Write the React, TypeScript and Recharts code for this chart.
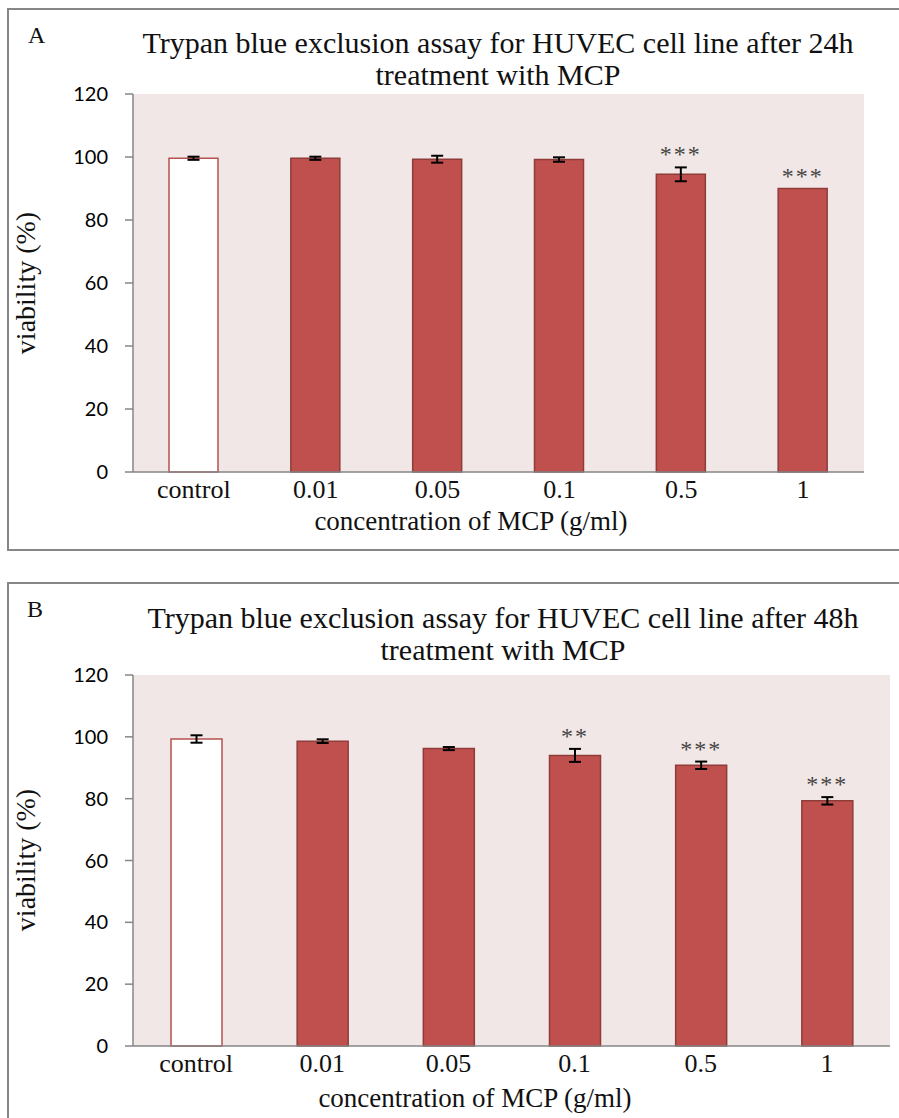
import React from "react";
import { Bar, BarChart, CartesianGrid, Cell, ErrorBar, LabelList, XAxis, YAxis } from "recharts";

const categories = ["control", "0.01", "0.05", "0.1", "0.5", "1"];

// 24h treatment
const viability24 = [99.6, 99.6, 99.3, 99.2, 94.5, 90.0];
const sd24 = [0.5, 0.5, 1.1, 0.7, 2.2, 0];
const sig24 = ["", "", "", "", "***", "***"];

// 48h treatment
const viability48 = [99.3, 98.6, 96.2, 94.0, 90.8, 79.3];
const sd48 = [1.2, 0.6, 0.5, 2.1, 1.2, 1.2];
const sig48 = ["", "", "", "**", "***", "***"];

const yTicks = [0, 20, 40, 60, 80, 100, 120];

const RED = "#c0504d";
const RED_EDGE = "#8e3c3a";
const PLOT_BG = "#f2e7e7";
const AXIS = "#868686";
const SERIF = "'Liberation Serif', 'Times New Roman', serif";
const SANS = "Lato, 'Open Sans', sans-serif";

interface PanelProps {
  values: number[];
  errors: number[];
  marks: string[];
  top: number;
  height: number;
  margin: { top: number; right: number; bottom: number; left: number };
  barSize: number;
}

function Panel({ values, errors, marks, top, height, margin, barSize }: PanelProps) {
  const data = categories.map((c, i) => ({ name: c, value: values[i], err: errors[i], mark: marks[i] }));

  return (
    <div style={{ position: "absolute", left: 0, top, width: 899, height }}>
      <BarChart width={899} height={height} data={data} margin={margin}>
        <CartesianGrid horizontal={false} vertical={false} fill={PLOT_BG} />
        <XAxis
          dataKey="name"
          height={30}
          axisLine={{ stroke: AXIS, strokeWidth: 1.5 }}
          tickLine={false}
          tickSize={0}
          tickMargin={8}
          interval={0}
          tick={{ fontSize: 26, fill: "#111", fontFamily: SERIF }}
        />
        <YAxis
          width={60}
          domain={[0, 120]}
          ticks={yTicks}
          interval={0}
          axisLine={{ stroke: AXIS, strokeWidth: 1.5 }}
          tickLine={{ stroke: AXIS, strokeWidth: 1.5 }}
          tickSize={8}
          tickMargin={17}
          tick={{ fontSize: 20, fill: "#000", fontFamily: SANS }}
        />
        <Bar dataKey="value" barSize={barSize} isAnimationActive={false}>
          {data.map((d, i) => (
            <Cell
              key={d.name}
              fill={i === 0 ? "#ffffff" : RED}
              stroke={i === 0 ? "#b5524f" : RED_EDGE}
              strokeWidth={1.5}
            />
          ))}
          <ErrorBar dataKey="err" width={6} strokeWidth={2} stroke="#000" direction="y" />
          <LabelList
            dataKey="mark"
            content={(props) => {
              const { x, y, width, height: h, index } = props as {
                x: number; y: number; width: number; height: number; index: number;
              };
              const d = data[index];
              if (!d.mark) return null;
              // px per unit from the bar itself, so the stars sit above the error cap
              const errTop = y - (d.err * h) / d.value;
              return (
                <text
                  x={x + width / 2}
                  y={errTop - 13}
                  textAnchor="middle"
                  dominantBaseline="central"
                  fontSize={24}
                  letterSpacing={2}
                  fontFamily={SERIF}
                  fill="#444"
                >
                  {d.mark}
                </text>
              );
            }}
          />
        </Bar>
      </BarChart>
    </div>
  );
}

export default function App() {
  return (
    <div style={{ position: "absolute", left: 0, top: 0, width: 899, height: 1118, background: "#fff", overflow: "hidden" }}>
      <div style={{ position: "absolute", left: 7, top: 8, width: 900, height: 539, border: `2px solid ${AXIS}` }} />
      <div style={{ position: "absolute", left: 7, top: 582, width: 900, height: 600, border: `2px solid ${AXIS}` }} />

      <Panel
        values={viability24}
        errors={sd24}
        marks={sig24}
        top={0}
        height={560}
        margin={{ top: 94, right: 35, bottom: 58, left: 73 }}
        barSize={49}
      />
      <Panel
        values={viability48}
        errors={sd48}
        marks={sig48}
        top={560}
        height={558}
        margin={{ top: 115, right: 9, bottom: 42, left: 73 }}
        barSize={51}
      />

      <svg width={899} height={1118} style={{ position: "absolute", left: 0, top: 0, pointerEvents: "none" }}>
        <g fontFamily={SERIF} fill="#111">
          <text x={28} y={43} fontSize={24}>A</text>
          <text x={498} y={53} fontSize={30} textAnchor="middle">Trypan blue exclusion assay for HUVEC cell line after 24h</text>
          <text x={498} y={85} fontSize={30} textAnchor="middle">treatment with MCP</text>
          <text x={471} y={530} fontSize={27} textAnchor="middle">concentration of MCP (g/ml)</text>
          <text x={0} y={0} fontSize={28} textAnchor="middle" transform="translate(35 283) rotate(-90)">viability (%)</text>

          <text x={27} y={617} fontSize={24}>B</text>
          <text x={503} y={628} fontSize={30} textAnchor="middle">Trypan blue exclusion assay for HUVEC cell line after 48h</text>
          <text x={503} y={660} fontSize={30} textAnchor="middle">treatment with MCP</text>
          <text x={475} y={1107} fontSize={27} textAnchor="middle">concentration of MCP (g/ml)</text>
          <text x={0} y={0} fontSize={28} textAnchor="middle" transform="translate(35 860) rotate(-90)">viability (%)</text>
        </g>
      </svg>
    </div>
  );
}
